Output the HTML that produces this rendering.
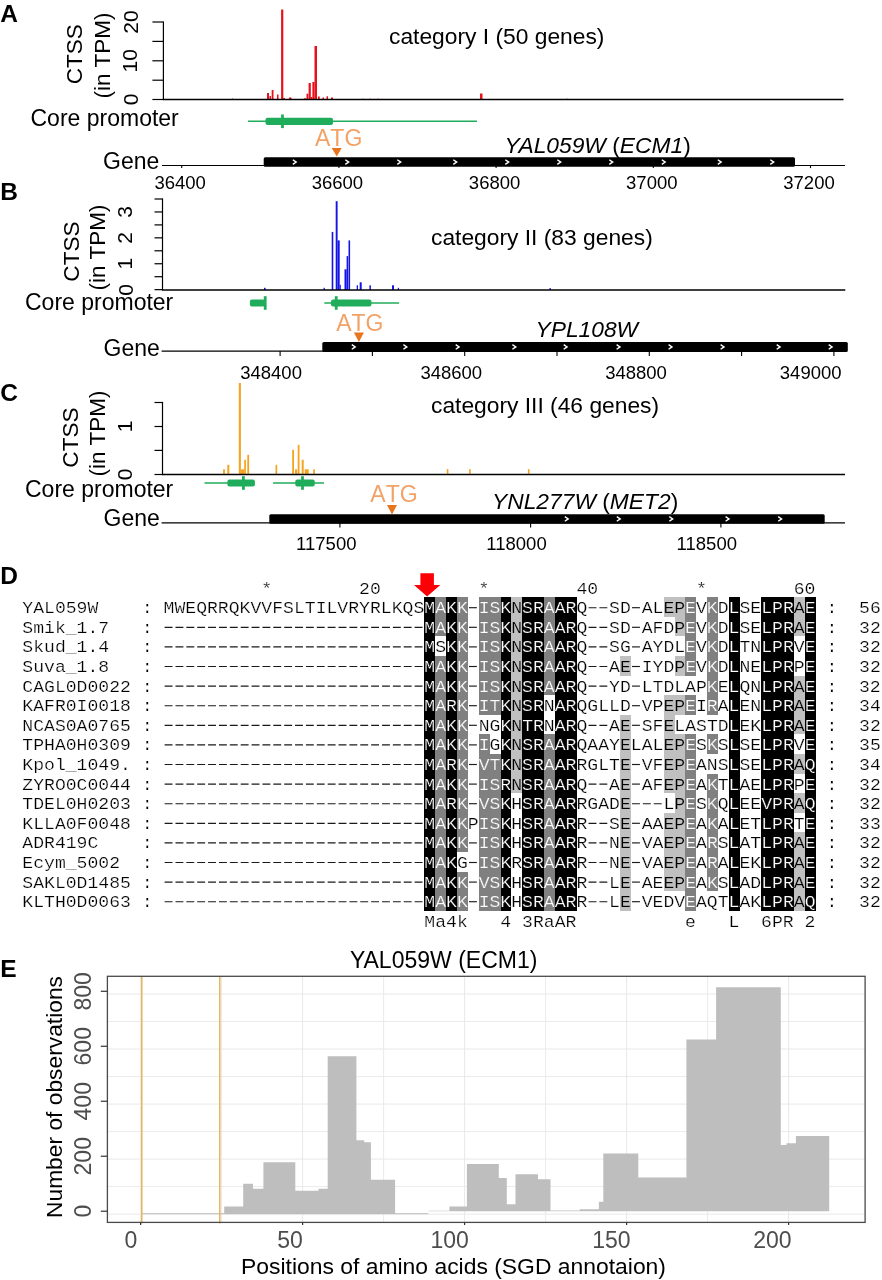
<!DOCTYPE html>
<html><head><meta charset="utf-8"><title>figure</title>
<style>
html,body{margin:0;padding:0;background:#fff}
svg{display:block;will-change:transform}
text{font-family:"Liberation Sans", sans-serif}
.m text{font-family:"Liberation Mono", monospace;white-space:pre}
</style></head>
<body>
<svg width="882" height="1280" viewBox="0 0 882 1280">
<!-- panels A-C -->
<text x="0.3" y="21.8" font-size="24.5" font-weight="bold">A</text>
<line x1="163.4" y1="21.4" x2="163.4" y2="99.5" stroke="#000" stroke-width="1.2"/>
<line x1="152.4" y1="22" x2="163.4" y2="22" stroke="#000" stroke-width="1.2"/>
<line x1="152.4" y1="41.4" x2="163.4" y2="41.4" stroke="#000" stroke-width="1.2"/>
<line x1="152.4" y1="60.8" x2="163.4" y2="60.8" stroke="#000" stroke-width="1.2"/>
<line x1="152.4" y1="80.2" x2="163.4" y2="80.2" stroke="#000" stroke-width="1.2"/>
<line x1="152.4" y1="99.5" x2="163.4" y2="99.5" stroke="#000" stroke-width="1.2"/>
<text x="81.7" y="54.2" font-size="22.6" text-anchor="middle" transform="rotate(-90 81.7 54.2)">CTSS</text>
<text x="109.5" y="55.5" font-size="22.5" text-anchor="middle" transform="rotate(-90 109.5 55.5)">(in TPM)</text>
<text x="137.5" y="99.5" font-size="21" text-anchor="middle" transform="rotate(-90 137.5 99.5)">0</text>
<text x="137.5" y="60.8" font-size="21" text-anchor="middle" transform="rotate(-90 137.5 60.8)">10</text>
<text x="137.5" y="22" font-size="21" text-anchor="middle" transform="rotate(-90 137.5 22)">20</text>
<rect x="232" y="98.5" width="1" height="1.0" fill="#e8101a"/>
<rect x="267" y="93" width="2" height="6.5" fill="#e8101a"/>
<rect x="269.5" y="96" width="1.5" height="3.5" fill="#e8101a"/>
<rect x="271.7" y="90" width="1.8" height="9.5" fill="#e8101a"/>
<rect x="277" y="94.5" width="1.5" height="5.0" fill="#e8101a"/>
<rect x="281.1" y="9.5" width="2.2" height="90.0" fill="#e8101a"/>
<rect x="283.3" y="98" width="1.7" height="1.5" fill="#e8101a"/>
<rect x="289" y="97.5" width="2.5" height="2.0" fill="#e8101a"/>
<rect x="304" y="98.3" width="2" height="1.2" fill="#e8101a"/>
<rect x="306.5" y="93.7" width="1.8" height="5.8" fill="#e8101a"/>
<rect x="308.6" y="83" width="2.2" height="16.5" fill="#e8101a"/>
<rect x="310.8" y="97" width="1.5" height="2.5" fill="#e8101a"/>
<rect x="312.4" y="82" width="2.1" height="17.5" fill="#e8101a"/>
<rect x="314.5" y="46" width="2.5" height="53.5" fill="#e8101a"/>
<rect x="318" y="96.5" width="1.7" height="3.0" fill="#e8101a"/>
<rect x="322.5" y="97.5" width="1.5" height="2.0" fill="#e8101a"/>
<rect x="326.5" y="96.3" width="1.5" height="3.2" fill="#e8101a"/>
<rect x="331" y="97.5" width="2" height="2.0" fill="#e8101a"/>
<rect x="362" y="98.8" width="2" height="0.7" fill="#e8101a"/>
<rect x="369" y="98.8" width="2" height="0.7" fill="#e8101a"/>
<rect x="377" y="98.8" width="2" height="0.7" fill="#e8101a"/>
<rect x="480" y="93.5" width="2.5" height="6.0" fill="#e8101a"/>
<rect x="566" y="98.8" width="2" height="0.7" fill="#e8101a"/>
<line x1="162.8" y1="99.5" x2="843.5" y2="99.5" stroke="#000" stroke-width="1.6"/>
<text x="389" y="44" font-size="22.8">category I (50 genes)</text>
<text x="30.5" y="125.5" font-size="23">Core promoter</text>
<line x1="248" y1="121.3" x2="477" y2="121.3" stroke="#1fad5b" stroke-width="1.5"/>
<rect x="265.5" y="117.7" width="67.5" height="7.2" rx="2" fill="#1fad5b"/>
<rect x="281.1" y="114.5" width="2.8" height="13.6" fill="#1fad5b"/>
<text x="103" y="168.7" font-size="23">Gene</text>
<line x1="162" y1="165.5" x2="845" y2="165.5" stroke="#000" stroke-width="1.2"/>
<line x1="181.7" y1="165.5" x2="181.7" y2="168.1" stroke="#000" stroke-width="1.1"/>
<line x1="338.9" y1="165.5" x2="338.9" y2="168.1" stroke="#000" stroke-width="1.1"/>
<line x1="496.1" y1="165.5" x2="496.1" y2="168.1" stroke="#000" stroke-width="1.1"/>
<line x1="653.3" y1="165.5" x2="653.3" y2="168.1" stroke="#000" stroke-width="1.1"/>
<line x1="810.5" y1="165.5" x2="810.5" y2="168.1" stroke="#000" stroke-width="1.1"/>
<text x="180.2" y="188.5" font-size="18.5" text-anchor="middle">36400</text>
<text x="337.4" y="188.5" font-size="18.5" text-anchor="middle">36600</text>
<text x="494.6" y="188.5" font-size="18.5" text-anchor="middle">36800</text>
<text x="651.8" y="188.5" font-size="18.5" text-anchor="middle">37000</text>
<text x="809.0" y="188.5" font-size="18.5" text-anchor="middle">37200</text>
<rect x="263.7" y="157.3" width="531.3" height="9.5" rx="1.5" fill="#000"/>
<path d="M292.8 159.75L296.2 162.05L292.8 164.35" fill="none" stroke="#fff" stroke-width="1.4"/>
<path d="M345.3 159.75L348.7 162.05L345.3 164.35" fill="none" stroke="#fff" stroke-width="1.4"/>
<path d="M397.3 159.75L400.7 162.05L397.3 164.35" fill="none" stroke="#fff" stroke-width="1.4"/>
<path d="M453.3 159.75L456.7 162.05L453.3 164.35" fill="none" stroke="#fff" stroke-width="1.4"/>
<path d="M505.3 159.75L508.7 162.05L505.3 164.35" fill="none" stroke="#fff" stroke-width="1.4"/>
<path d="M557.3 159.75L560.7 162.05L557.3 164.35" fill="none" stroke="#fff" stroke-width="1.4"/>
<path d="M609.3 159.75L612.7 162.05L609.3 164.35" fill="none" stroke="#fff" stroke-width="1.4"/>
<path d="M661.8 159.75L665.2 162.05L661.8 164.35" fill="none" stroke="#fff" stroke-width="1.4"/>
<path d="M717.8 159.75L721.2 162.05L717.8 164.35" fill="none" stroke="#fff" stroke-width="1.4"/>
<path d="M770.3 159.75L773.7 162.05L770.3 164.35" fill="none" stroke="#fff" stroke-width="1.4"/>
<text x="315" y="146.3" font-size="23" fill="#f2a266" style="font-kerning:none">ATG</text>
<path d="M331.7 148L341.7 148L336.7 156.5Z" fill="#e8741e"/>
<text x="504.5" y="153" font-size="22.8"><tspan font-style="italic">YAL059W</tspan> (<tspan font-style="italic">ECM1</tspan>)</text>
<text x="0.3" y="199.5" font-size="24.5" font-weight="bold">B</text>
<line x1="162.5" y1="198.4" x2="162.5" y2="290.0" stroke="#000" stroke-width="1.2"/>
<line x1="154.5" y1="199.0" x2="162.5" y2="199.0" stroke="#000" stroke-width="1.2"/>
<line x1="154.5" y1="211.95" x2="162.5" y2="211.95" stroke="#000" stroke-width="1.2"/>
<line x1="154.5" y1="224.9" x2="162.5" y2="224.9" stroke="#000" stroke-width="1.2"/>
<line x1="154.5" y1="237.85" x2="162.5" y2="237.85" stroke="#000" stroke-width="1.2"/>
<line x1="154.5" y1="250.8" x2="162.5" y2="250.8" stroke="#000" stroke-width="1.2"/>
<line x1="154.5" y1="263.75" x2="162.5" y2="263.75" stroke="#000" stroke-width="1.2"/>
<line x1="154.5" y1="276.7" x2="162.5" y2="276.7" stroke="#000" stroke-width="1.2"/>
<line x1="154.5" y1="289.65" x2="162.5" y2="289.65" stroke="#000" stroke-width="1.2"/>
<text x="79.3" y="251.5" font-size="22.6" text-anchor="middle" transform="rotate(-90 79.3 251.5)">CTSS</text>
<text x="105.4" y="247.5" font-size="22.5" text-anchor="middle" transform="rotate(-90 105.4 247.5)">(in TPM)</text>
<text x="132.5" y="290.0" font-size="21" text-anchor="middle" transform="rotate(-90 132.5 290.0)">0</text>
<text x="132.5" y="263.7" font-size="21" text-anchor="middle" transform="rotate(-90 132.5 263.7)">1</text>
<text x="132.5" y="237.8" font-size="21" text-anchor="middle" transform="rotate(-90 132.5 237.8)">2</text>
<text x="132.5" y="211.9" font-size="21" text-anchor="middle" transform="rotate(-90 132.5 211.9)">3</text>
<rect x="264" y="287.8" width="1.6" height="2.2" fill="#1414e6"/>
<rect x="323.5" y="287.8" width="1.3" height="2.2" fill="#1414e6"/>
<rect x="331.7" y="231.9" width="1.6" height="58.1" fill="#1414e6"/>
<rect x="335.7" y="201.2" width="1.9" height="88.8" fill="#1414e6"/>
<rect x="337.6" y="240.4" width="2.1" height="49.6" fill="#1414e6"/>
<rect x="339.7" y="284.8" width="1.1" height="5.2" fill="#1414e6"/>
<rect x="344.5" y="269.3" width="2.1" height="20.7" fill="#1414e6"/>
<rect x="346.6" y="256.1" width="1.5" height="33.9" fill="#1414e6"/>
<rect x="348.5" y="240.4" width="1.6" height="49.6" fill="#1414e6"/>
<rect x="356.7" y="285.3" width="1.3" height="4.7" fill="#1414e6"/>
<rect x="359.7" y="282.3" width="2.0" height="7.7" fill="#1414e6"/>
<rect x="369.4" y="285.3" width="1.5" height="4.7" fill="#1414e6"/>
<rect x="392" y="285.3" width="2" height="4.7" fill="#1414e6"/>
<rect x="397.8" y="287.8" width="1.2" height="2.2" fill="#1414e6"/>
<rect x="549.5" y="288" width="1.3" height="2.0" fill="#1414e6"/>
<line x1="161.9" y1="290.0" x2="845.3" y2="290.0" stroke="#000" stroke-width="1.6"/>
<text x="431" y="245" font-size="22.8">category II (83 genes)</text>
<text x="25" y="309.9" font-size="23">Core promoter</text>
<line x1="324.3" y1="303" x2="399.1" y2="303" stroke="#1fad5b" stroke-width="1.5"/>
<rect x="249.9" y="299.4" width="15.1" height="7.2" rx="2" fill="#1fad5b"/>
<rect x="331" y="299.4" width="40.4" height="7.2" rx="2" fill="#1fad5b"/>
<rect x="263.8" y="296.2" width="2.8" height="13.6" fill="#1fad5b"/>
<rect x="334.8" y="296.2" width="2.8" height="13.6" fill="#1fad5b"/>
<text x="103.5" y="355.6" font-size="23">Gene</text>
<line x1="161.6" y1="351.1" x2="846" y2="351.1" stroke="#000" stroke-width="1.2"/>
<line x1="280.1" y1="351.1" x2="280.1" y2="355.90000000000003" stroke="#000" stroke-width="1.1"/>
<line x1="372.40000000000003" y1="351.1" x2="372.40000000000003" y2="355.90000000000003" stroke="#000" stroke-width="1.1"/>
<line x1="464.70000000000005" y1="351.1" x2="464.70000000000005" y2="355.90000000000003" stroke="#000" stroke-width="1.1"/>
<line x1="557.0" y1="351.1" x2="557.0" y2="355.90000000000003" stroke="#000" stroke-width="1.1"/>
<line x1="649.3" y1="351.1" x2="649.3" y2="355.90000000000003" stroke="#000" stroke-width="1.1"/>
<line x1="741.6" y1="351.1" x2="741.6" y2="355.90000000000003" stroke="#000" stroke-width="1.1"/>
<line x1="833.9" y1="351.1" x2="833.9" y2="355.90000000000003" stroke="#000" stroke-width="1.1"/>
<text x="271.1" y="378.6" font-size="18.5" text-anchor="middle">348400</text>
<text x="451.3" y="378.6" font-size="18.5" text-anchor="middle">348600</text>
<text x="636" y="378.6" font-size="18.5" text-anchor="middle">348800</text>
<text x="810.7" y="378.6" font-size="18.5" text-anchor="middle">349000</text>
<rect x="322.3" y="341.9" width="525.5" height="10.1" rx="1.5" fill="#000"/>
<path d="M351.8 344.65L355.2 346.95L351.8 349.25" fill="none" stroke="#fff" stroke-width="1.4"/>
<path d="M403.4 344.65L406.8 346.95L403.4 349.25" fill="none" stroke="#fff" stroke-width="1.4"/>
<path d="M455.7 344.65L459.1 346.95L455.7 349.25" fill="none" stroke="#fff" stroke-width="1.4"/>
<path d="M512.4 344.65L515.8 346.95L512.4 349.25" fill="none" stroke="#fff" stroke-width="1.4"/>
<path d="M563.7 344.65L567.1 346.95L563.7 349.25" fill="none" stroke="#fff" stroke-width="1.4"/>
<path d="M616.6 344.65L620.0 346.95L616.6 349.25" fill="none" stroke="#fff" stroke-width="1.4"/>
<path d="M668.6 344.65L672.0 346.95L668.6 349.25" fill="none" stroke="#fff" stroke-width="1.4"/>
<path d="M720.6 344.65L724.0 346.95L720.6 349.25" fill="none" stroke="#fff" stroke-width="1.4"/>
<path d="M776.7 344.65L780.1 346.95L776.7 349.25" fill="none" stroke="#fff" stroke-width="1.4"/>
<path d="M828.7 344.65L832.1 346.95L828.7 349.25" fill="none" stroke="#fff" stroke-width="1.4"/>
<text x="336.2" y="331.1" font-size="23" fill="#f2a266" style="font-kerning:none">ATG</text>
<path d="M353.9 332.6L363.9 332.6L358.9 341.9Z" fill="#e8741e"/>
<text x="535.5" y="336.9" font-size="22.8"><tspan font-style="italic">YPL108W</tspan></text>
<text x="0.3" y="401.3" font-size="24.5" font-weight="bold">C</text>
<line x1="162.5" y1="401.9" x2="162.5" y2="474.5" stroke="#000" stroke-width="1.2"/>
<line x1="154.5" y1="402.5" x2="162.5" y2="402.5" stroke="#000" stroke-width="1.2"/>
<line x1="154.5" y1="426.5" x2="162.5" y2="426.5" stroke="#000" stroke-width="1.2"/>
<line x1="154.5" y1="450.4" x2="162.5" y2="450.4" stroke="#000" stroke-width="1.2"/>
<line x1="154.5" y1="474.5" x2="162.5" y2="474.5" stroke="#000" stroke-width="1.2"/>
<text x="77.8" y="437.5" font-size="22.6" text-anchor="middle" transform="rotate(-90 77.8 437.5)">CTSS</text>
<text x="104.5" y="433.5" font-size="22.5" text-anchor="middle" transform="rotate(-90 104.5 433.5)">(in TPM)</text>
<text x="132" y="474.5" font-size="21" text-anchor="middle" transform="rotate(-90 132 474.5)">0</text>
<text x="132" y="426.5" font-size="21" text-anchor="middle" transform="rotate(-90 132 426.5)">1</text>
<rect x="223.1" y="469.3" width="1.8" height="5.2" fill="#f5a41f"/>
<rect x="227.3" y="464.8" width="2.0" height="9.7" fill="#f5a41f"/>
<rect x="238.8" y="383" width="2.1" height="91.5" fill="#f5a41f"/>
<rect x="240.9" y="469.3" width="3.3" height="5.2" fill="#f5a41f"/>
<rect x="244.2" y="459.8" width="1.7" height="14.7" fill="#f5a41f"/>
<rect x="247.3" y="454.8" width="1.8" height="19.7" fill="#f5a41f"/>
<rect x="275.5" y="464.8" width="1.7" height="9.7" fill="#f5a41f"/>
<rect x="292.2" y="449.8" width="1.8" height="24.7" fill="#f5a41f"/>
<rect x="295" y="469.3" width="2.2" height="5.2" fill="#f5a41f"/>
<rect x="297.7" y="444.8" width="1.8" height="29.7" fill="#f5a41f"/>
<rect x="301.7" y="459.8" width="2.0" height="14.7" fill="#f5a41f"/>
<rect x="304.7" y="469.3" width="4.0" height="5.2" fill="#f5a41f"/>
<rect x="313.2" y="469.3" width="1.7" height="5.2" fill="#f5a41f"/>
<rect x="446.8" y="469.1" width="1.6" height="5.4" fill="#f5a41f"/>
<rect x="469.1" y="469.1" width="1.6" height="5.4" fill="#f5a41f"/>
<rect x="527.9" y="469.1" width="1.6" height="5.4" fill="#f5a41f"/>
<line x1="161.9" y1="474.5" x2="845" y2="474.5" stroke="#000" stroke-width="1.6"/>
<text x="431" y="413" font-size="22.8">category III (46 genes)</text>
<text x="25" y="496.9" font-size="23">Core promoter</text>
<line x1="204.5" y1="483" x2="254.4" y2="483" stroke="#1fad5b" stroke-width="1.5"/>
<line x1="273.1" y1="483" x2="324" y2="483" stroke="#1fad5b" stroke-width="1.5"/>
<rect x="227.4" y="479.4" width="27.5" height="7.2" rx="2" fill="#1fad5b"/>
<rect x="295.3" y="479.4" width="19.4" height="7.2" rx="2" fill="#1fad5b"/>
<rect x="242.0" y="476.2" width="2.8" height="13.6" fill="#1fad5b"/>
<rect x="301.1" y="476.2" width="2.8" height="13.6" fill="#1fad5b"/>
<text x="103.5" y="526.4" font-size="23">Gene</text>
<line x1="161.6" y1="522.9" x2="845" y2="522.9" stroke="#000" stroke-width="1.2"/>
<line x1="339.9" y1="522.9" x2="339.9" y2="527.5" stroke="#000" stroke-width="1.1"/>
<line x1="530.6" y1="522.9" x2="530.6" y2="527.5" stroke="#000" stroke-width="1.1"/>
<line x1="720.9" y1="522.9" x2="720.9" y2="527.5" stroke="#000" stroke-width="1.1"/>
<text x="326.3" y="550" font-size="18.5" text-anchor="middle">117500</text>
<text x="516.5" y="550" font-size="18.5" text-anchor="middle">118000</text>
<text x="706.8" y="550" font-size="18.5" text-anchor="middle">118500</text>
<rect x="269.3" y="514.2" width="555.4" height="9.5" rx="1.5" fill="#000"/>
<path d="M564.8 516.65L568.2 518.95L564.8 521.25" fill="none" stroke="#fff" stroke-width="1.4"/>
<path d="M616.8 516.65L620.2 518.95L616.8 521.25" fill="none" stroke="#fff" stroke-width="1.4"/>
<path d="M669.3 516.65L672.7 518.95L669.3 521.25" fill="none" stroke="#fff" stroke-width="1.4"/>
<path d="M725.6 516.65L729.0 518.95L725.6 521.25" fill="none" stroke="#fff" stroke-width="1.4"/>
<path d="M778.2 516.65L781.6 518.95L778.2 521.25" fill="none" stroke="#fff" stroke-width="1.4"/>
<text x="370.3" y="502.4" font-size="23" fill="#f2a266" style="font-kerning:none">ATG</text>
<path d="M387 505L397 505L392 514.4Z" fill="#e8741e"/>
<text x="492" y="508.5" font-size="22.8"><tspan font-style="italic">YNL277W</tspan> (<tspan font-style="italic">MET2</tspan>)</text>
<!-- panel D -->
<rect x="424.49" y="597.2" width="10.87" height="313.6" fill="#000" shape-rendering="crispEdges"/>
<rect x="435.36" y="597.2" width="10.87" height="39.2" fill="#808080" shape-rendering="crispEdges"/>
<rect x="435.36" y="656.0" width="10.87" height="254.8" fill="#808080" shape-rendering="crispEdges"/>
<rect x="446.23" y="597.2" width="10.87" height="313.6" fill="#000" shape-rendering="crispEdges"/>
<rect x="457.1" y="597.2" width="10.87" height="254.8" fill="#808080" shape-rendering="crispEdges"/>
<rect x="457.1" y="871.6" width="10.87" height="39.2" fill="#808080" shape-rendering="crispEdges"/>
<rect x="478.84" y="597.2" width="10.87" height="117.6" fill="#808080" shape-rendering="crispEdges"/>
<rect x="478.84" y="734.4" width="10.87" height="176.4" fill="#808080" shape-rendering="crispEdges"/>
<rect x="489.71" y="597.2" width="10.87" height="117.6" fill="#808080" shape-rendering="crispEdges"/>
<rect x="489.71" y="754.0" width="10.87" height="156.8" fill="#808080" shape-rendering="crispEdges"/>
<rect x="500.58" y="597.2" width="10.87" height="313.6" fill="#000" shape-rendering="crispEdges"/>
<rect x="511.45" y="597.2" width="10.87" height="196.0" fill="#c0c0c0" shape-rendering="crispEdges"/>
<rect x="522.32" y="597.2" width="10.87" height="313.6" fill="#000" shape-rendering="crispEdges"/>
<rect x="533.19" y="597.2" width="10.87" height="313.6" fill="#000" shape-rendering="crispEdges"/>
<rect x="544.06" y="597.2" width="10.87" height="98.0" fill="#808080" shape-rendering="crispEdges"/>
<rect x="544.06" y="734.4" width="10.87" height="176.4" fill="#808080" shape-rendering="crispEdges"/>
<rect x="554.93" y="597.2" width="10.87" height="313.6" fill="#000" shape-rendering="crispEdges"/>
<rect x="565.8" y="597.2" width="10.87" height="313.6" fill="#000" shape-rendering="crispEdges"/>
<rect x="620.15" y="656.0" width="10.87" height="19.6" fill="#c0c0c0" shape-rendering="crispEdges"/>
<rect x="620.15" y="714.8" width="10.87" height="196.0" fill="#c0c0c0" shape-rendering="crispEdges"/>
<rect x="663.63" y="597.2" width="10.87" height="19.6" fill="#c0c0c0" shape-rendering="crispEdges"/>
<rect x="663.63" y="695.2" width="10.87" height="98.0" fill="#c0c0c0" shape-rendering="crispEdges"/>
<rect x="663.63" y="812.8" width="10.87" height="78.4" fill="#c0c0c0" shape-rendering="crispEdges"/>
<rect x="674.5" y="597.2" width="10.87" height="39.2" fill="#c0c0c0" shape-rendering="crispEdges"/>
<rect x="674.5" y="656.0" width="10.87" height="19.6" fill="#c0c0c0" shape-rendering="crispEdges"/>
<rect x="674.5" y="695.2" width="10.87" height="19.6" fill="#c0c0c0" shape-rendering="crispEdges"/>
<rect x="674.5" y="734.4" width="10.87" height="156.8" fill="#c0c0c0" shape-rendering="crispEdges"/>
<rect x="685.37" y="597.2" width="10.87" height="78.4" fill="#808080" shape-rendering="crispEdges"/>
<rect x="685.37" y="695.2" width="10.87" height="19.6" fill="#808080" shape-rendering="crispEdges"/>
<rect x="685.37" y="734.4" width="10.87" height="176.4" fill="#808080" shape-rendering="crispEdges"/>
<rect x="707.11" y="597.2" width="10.87" height="117.6" fill="#808080" shape-rendering="crispEdges"/>
<rect x="707.11" y="734.4" width="10.87" height="19.6" fill="#808080" shape-rendering="crispEdges"/>
<rect x="707.11" y="773.6" width="10.87" height="117.6" fill="#808080" shape-rendering="crispEdges"/>
<rect x="728.85" y="597.2" width="10.87" height="313.6" fill="#000" shape-rendering="crispEdges"/>
<rect x="761.46" y="597.2" width="10.87" height="313.6" fill="#000" shape-rendering="crispEdges"/>
<rect x="772.33" y="597.2" width="10.87" height="313.6" fill="#000" shape-rendering="crispEdges"/>
<rect x="783.2" y="597.2" width="10.87" height="313.6" fill="#000" shape-rendering="crispEdges"/>
<rect x="794.07" y="597.2" width="10.87" height="39.2" fill="#c0c0c0" shape-rendering="crispEdges"/>
<rect x="794.07" y="675.6" width="10.87" height="58.8" fill="#c0c0c0" shape-rendering="crispEdges"/>
<rect x="794.07" y="754.0" width="10.87" height="19.6" fill="#c0c0c0" shape-rendering="crispEdges"/>
<rect x="794.07" y="793.2" width="10.87" height="19.6" fill="#c0c0c0" shape-rendering="crispEdges"/>
<rect x="794.07" y="832.4" width="10.87" height="78.4" fill="#c0c0c0" shape-rendering="crispEdges"/>
<rect x="804.94" y="597.2" width="10.87" height="313.6" fill="#000" shape-rendering="crispEdges"/>
<g class="m" font-size="18.11" stroke="#fff" stroke-width="0.25">
<text transform="translate(22.3 593.9) scale(1 0.87)">                      *        20         *        40         *        60</text>
<line x1="468.97" y1="607.7" x2="478.84" y2="607.7" stroke="#1a1a1a" stroke-width="1.15" stroke-dasharray="7.9 2.97"/>
<line x1="588.54" y1="607.7" x2="609.28" y2="607.7" stroke="#1a1a1a" stroke-width="1.15" stroke-dasharray="7.9 2.97"/>
<line x1="632.02" y1="607.7" x2="641.89" y2="607.7" stroke="#1a1a1a" stroke-width="1.15" stroke-dasharray="7.9 2.97"/>
<text transform="translate(22.3 613.1) scale(1 0.87)">YAL059W    : MWEQRRQKVVFSLTILVRYRLKQS<tspan fill="#fff" stroke="#000">M</tspan><tspan fill="#fff" stroke="#808080">A</tspan><tspan fill="#fff" stroke="#000">K</tspan><tspan fill="#fff" stroke="#808080">K IS</tspan><tspan fill="#fff" stroke="#000">K</tspan><tspan fill="#000" stroke="#c0c0c0">N</tspan><tspan fill="#fff" stroke="#000">SR</tspan><tspan fill="#fff" stroke="#808080">A</tspan><tspan fill="#fff" stroke="#000">AR</tspan>Q  SD AL<tspan fill="#000" stroke="#c0c0c0">EP</tspan><tspan fill="#fff" stroke="#808080">E</tspan>V<tspan fill="#fff" stroke="#808080">K</tspan>D<tspan fill="#fff" stroke="#000">L</tspan>SE<tspan fill="#fff" stroke="#000">LPR</tspan><tspan fill="#000" stroke="#c0c0c0">A</tspan><tspan fill="#fff" stroke="#000">E </tspan>:  56</text>
<line x1="164.61" y1="627.3" x2="424.49" y2="627.3" stroke="#1a1a1a" stroke-width="1.15" stroke-dasharray="7.9 2.97"/>
<line x1="468.97" y1="627.3" x2="478.84" y2="627.3" stroke="#1a1a1a" stroke-width="1.15" stroke-dasharray="7.9 2.97"/>
<line x1="588.54" y1="627.3" x2="609.28" y2="627.3" stroke="#1a1a1a" stroke-width="1.15" stroke-dasharray="7.9 2.97"/>
<line x1="632.02" y1="627.3" x2="641.89" y2="627.3" stroke="#1a1a1a" stroke-width="1.15" stroke-dasharray="7.9 2.97"/>
<text transform="translate(22.3 632.7) scale(1 0.87)">Smik_1.7   :                         <tspan fill="#fff" stroke="#000">M</tspan><tspan fill="#fff" stroke="#808080">A</tspan><tspan fill="#fff" stroke="#000">K</tspan><tspan fill="#fff" stroke="#808080">K IS</tspan><tspan fill="#fff" stroke="#000">K</tspan><tspan fill="#000" stroke="#c0c0c0">N</tspan><tspan fill="#fff" stroke="#000">SR</tspan><tspan fill="#fff" stroke="#808080">A</tspan><tspan fill="#fff" stroke="#000">AR</tspan>Q  SD AFD<tspan fill="#000" stroke="#c0c0c0">P</tspan><tspan fill="#fff" stroke="#808080">E</tspan>V<tspan fill="#fff" stroke="#808080">K</tspan>D<tspan fill="#fff" stroke="#000">L</tspan>SE<tspan fill="#fff" stroke="#000">LPR</tspan><tspan fill="#000" stroke="#c0c0c0">A</tspan><tspan fill="#fff" stroke="#000">E </tspan>:  32</text>
<line x1="164.61" y1="646.9" x2="424.49" y2="646.9" stroke="#1a1a1a" stroke-width="1.15" stroke-dasharray="7.9 2.97"/>
<line x1="468.97" y1="646.9" x2="478.84" y2="646.9" stroke="#1a1a1a" stroke-width="1.15" stroke-dasharray="7.9 2.97"/>
<line x1="588.54" y1="646.9" x2="609.28" y2="646.9" stroke="#1a1a1a" stroke-width="1.15" stroke-dasharray="7.9 2.97"/>
<line x1="632.02" y1="646.9" x2="641.89" y2="646.9" stroke="#1a1a1a" stroke-width="1.15" stroke-dasharray="7.9 2.97"/>
<text transform="translate(22.3 652.3) scale(1 0.87)">Skud_1.4   :                         <tspan fill="#fff" stroke="#000">M</tspan>S<tspan fill="#fff" stroke="#000">K</tspan><tspan fill="#fff" stroke="#808080">K IS</tspan><tspan fill="#fff" stroke="#000">K</tspan><tspan fill="#000" stroke="#c0c0c0">N</tspan><tspan fill="#fff" stroke="#000">SR</tspan><tspan fill="#fff" stroke="#808080">A</tspan><tspan fill="#fff" stroke="#000">AR</tspan>Q  SG AYDL<tspan fill="#fff" stroke="#808080">E</tspan>V<tspan fill="#fff" stroke="#808080">K</tspan>D<tspan fill="#fff" stroke="#000">L</tspan>TN<tspan fill="#fff" stroke="#000">LPR</tspan>V<tspan fill="#fff" stroke="#000">E </tspan>:  32</text>
<line x1="164.61" y1="666.5" x2="424.49" y2="666.5" stroke="#1a1a1a" stroke-width="1.15" stroke-dasharray="7.9 2.97"/>
<line x1="468.97" y1="666.5" x2="478.84" y2="666.5" stroke="#1a1a1a" stroke-width="1.15" stroke-dasharray="7.9 2.97"/>
<line x1="588.54" y1="666.5" x2="609.28" y2="666.5" stroke="#1a1a1a" stroke-width="1.15" stroke-dasharray="7.9 2.97"/>
<line x1="632.02" y1="666.5" x2="641.89" y2="666.5" stroke="#1a1a1a" stroke-width="1.15" stroke-dasharray="7.9 2.97"/>
<text transform="translate(22.3 671.9) scale(1 0.87)">Suva_1.8   :                         <tspan fill="#fff" stroke="#000">M</tspan><tspan fill="#fff" stroke="#808080">A</tspan><tspan fill="#fff" stroke="#000">K</tspan><tspan fill="#fff" stroke="#808080">K IS</tspan><tspan fill="#fff" stroke="#000">K</tspan><tspan fill="#000" stroke="#c0c0c0">N</tspan><tspan fill="#fff" stroke="#000">SR</tspan><tspan fill="#fff" stroke="#808080">A</tspan><tspan fill="#fff" stroke="#000">AR</tspan>Q  A<tspan fill="#000" stroke="#c0c0c0">E </tspan>IYD<tspan fill="#000" stroke="#c0c0c0">P</tspan><tspan fill="#fff" stroke="#808080">E</tspan>V<tspan fill="#fff" stroke="#808080">K</tspan>D<tspan fill="#fff" stroke="#000">L</tspan>NE<tspan fill="#fff" stroke="#000">LPR</tspan>P<tspan fill="#fff" stroke="#000">E </tspan>:  32</text>
<line x1="164.61" y1="686.1" x2="424.49" y2="686.1" stroke="#1a1a1a" stroke-width="1.15" stroke-dasharray="7.9 2.97"/>
<line x1="468.97" y1="686.1" x2="478.84" y2="686.1" stroke="#1a1a1a" stroke-width="1.15" stroke-dasharray="7.9 2.97"/>
<line x1="588.54" y1="686.1" x2="609.28" y2="686.1" stroke="#1a1a1a" stroke-width="1.15" stroke-dasharray="7.9 2.97"/>
<line x1="632.02" y1="686.1" x2="641.89" y2="686.1" stroke="#1a1a1a" stroke-width="1.15" stroke-dasharray="7.9 2.97"/>
<text transform="translate(22.3 691.5) scale(1 0.87)">CAGL0D0022 :                         <tspan fill="#fff" stroke="#000">M</tspan><tspan fill="#fff" stroke="#808080">A</tspan><tspan fill="#fff" stroke="#000">K</tspan><tspan fill="#fff" stroke="#808080">K IS</tspan><tspan fill="#fff" stroke="#000">K</tspan><tspan fill="#000" stroke="#c0c0c0">N</tspan><tspan fill="#fff" stroke="#000">SR</tspan><tspan fill="#fff" stroke="#808080">A</tspan><tspan fill="#fff" stroke="#000">AR</tspan>Q  YD LTDLAP<tspan fill="#fff" stroke="#808080">K</tspan>E<tspan fill="#fff" stroke="#000">L</tspan>QN<tspan fill="#fff" stroke="#000">LPR</tspan><tspan fill="#000" stroke="#c0c0c0">A</tspan><tspan fill="#fff" stroke="#000">E </tspan>:  32</text>
<line x1="164.61" y1="705.7" x2="424.49" y2="705.7" stroke="#1a1a1a" stroke-width="1.15" stroke-dasharray="7.9 2.97"/>
<line x1="468.97" y1="705.7" x2="478.84" y2="705.7" stroke="#1a1a1a" stroke-width="1.15" stroke-dasharray="7.9 2.97"/>
<line x1="632.02" y1="705.7" x2="641.89" y2="705.7" stroke="#1a1a1a" stroke-width="1.15" stroke-dasharray="7.9 2.97"/>
<text transform="translate(22.3 711.1) scale(1 0.87)">KAFR0I0018 :                         <tspan fill="#fff" stroke="#000">M</tspan><tspan fill="#fff" stroke="#808080">A</tspan><tspan fill="#fff" stroke="#000">R</tspan><tspan fill="#fff" stroke="#808080">K IT</tspan><tspan fill="#fff" stroke="#000">K</tspan><tspan fill="#000" stroke="#c0c0c0">N</tspan><tspan fill="#fff" stroke="#000">SR</tspan>N<tspan fill="#fff" stroke="#000">AR</tspan>QGLLD VP<tspan fill="#000" stroke="#c0c0c0">EP</tspan><tspan fill="#fff" stroke="#808080">E</tspan>I<tspan fill="#fff" stroke="#808080">R</tspan>A<tspan fill="#fff" stroke="#000">L</tspan>EN<tspan fill="#fff" stroke="#000">LPR</tspan><tspan fill="#000" stroke="#c0c0c0">A</tspan><tspan fill="#fff" stroke="#000">E </tspan>:  34</text>
<line x1="164.61" y1="725.3" x2="424.49" y2="725.3" stroke="#1a1a1a" stroke-width="1.15" stroke-dasharray="7.9 2.97"/>
<line x1="468.97" y1="725.3" x2="478.84" y2="725.3" stroke="#1a1a1a" stroke-width="1.15" stroke-dasharray="7.9 2.97"/>
<line x1="588.54" y1="725.3" x2="609.28" y2="725.3" stroke="#1a1a1a" stroke-width="1.15" stroke-dasharray="7.9 2.97"/>
<line x1="632.02" y1="725.3" x2="641.89" y2="725.3" stroke="#1a1a1a" stroke-width="1.15" stroke-dasharray="7.9 2.97"/>
<text transform="translate(22.3 730.7) scale(1 0.87)">NCAS0A0765 :                         <tspan fill="#fff" stroke="#000">M</tspan><tspan fill="#fff" stroke="#808080">A</tspan><tspan fill="#fff" stroke="#000">K</tspan><tspan fill="#fff" stroke="#808080">K </tspan>NG<tspan fill="#fff" stroke="#000">K</tspan><tspan fill="#000" stroke="#c0c0c0">N</tspan><tspan fill="#fff" stroke="#000">TR</tspan>N<tspan fill="#fff" stroke="#000">AR</tspan>Q  A<tspan fill="#000" stroke="#c0c0c0">E </tspan>SF<tspan fill="#000" stroke="#c0c0c0">E</tspan>LASTD<tspan fill="#fff" stroke="#000">L</tspan>EK<tspan fill="#fff" stroke="#000">LPR</tspan><tspan fill="#000" stroke="#c0c0c0">A</tspan><tspan fill="#fff" stroke="#000">E </tspan>:  32</text>
<line x1="164.61" y1="744.9" x2="424.49" y2="744.9" stroke="#1a1a1a" stroke-width="1.15" stroke-dasharray="7.9 2.97"/>
<line x1="468.97" y1="744.9" x2="478.84" y2="744.9" stroke="#1a1a1a" stroke-width="1.15" stroke-dasharray="7.9 2.97"/>
<text transform="translate(22.3 750.3) scale(1 0.87)">TPHA0H0309 :                         <tspan fill="#fff" stroke="#000">M</tspan><tspan fill="#fff" stroke="#808080">A</tspan><tspan fill="#fff" stroke="#000">K</tspan><tspan fill="#fff" stroke="#808080">K I</tspan>G<tspan fill="#fff" stroke="#000">K</tspan><tspan fill="#000" stroke="#c0c0c0">N</tspan><tspan fill="#fff" stroke="#000">SR</tspan><tspan fill="#fff" stroke="#808080">A</tspan><tspan fill="#fff" stroke="#000">AR</tspan>QAAY<tspan fill="#000" stroke="#c0c0c0">E</tspan>LAL<tspan fill="#000" stroke="#c0c0c0">EP</tspan><tspan fill="#fff" stroke="#808080">E</tspan>S<tspan fill="#fff" stroke="#808080">K</tspan>S<tspan fill="#fff" stroke="#000">L</tspan>SE<tspan fill="#fff" stroke="#000">LPR</tspan>V<tspan fill="#fff" stroke="#000">E </tspan>:  35</text>
<line x1="164.61" y1="764.5" x2="424.49" y2="764.5" stroke="#1a1a1a" stroke-width="1.15" stroke-dasharray="7.9 2.97"/>
<line x1="468.97" y1="764.5" x2="478.84" y2="764.5" stroke="#1a1a1a" stroke-width="1.15" stroke-dasharray="7.9 2.97"/>
<line x1="632.02" y1="764.5" x2="641.89" y2="764.5" stroke="#1a1a1a" stroke-width="1.15" stroke-dasharray="7.9 2.97"/>
<text transform="translate(22.3 769.9) scale(1 0.87)">Kpol_1049. :                         <tspan fill="#fff" stroke="#000">M</tspan><tspan fill="#fff" stroke="#808080">A</tspan><tspan fill="#fff" stroke="#000">R</tspan><tspan fill="#fff" stroke="#808080">K VT</tspan><tspan fill="#fff" stroke="#000">K</tspan><tspan fill="#000" stroke="#c0c0c0">N</tspan><tspan fill="#fff" stroke="#000">SR</tspan><tspan fill="#fff" stroke="#808080">A</tspan><tspan fill="#fff" stroke="#000">AR</tspan>RGLT<tspan fill="#000" stroke="#c0c0c0">E </tspan>VF<tspan fill="#000" stroke="#c0c0c0">EP</tspan><tspan fill="#fff" stroke="#808080">E</tspan>ANS<tspan fill="#fff" stroke="#000">L</tspan>SE<tspan fill="#fff" stroke="#000">LPR</tspan><tspan fill="#000" stroke="#c0c0c0">A</tspan><tspan fill="#fff" stroke="#000">Q </tspan>:  34</text>
<line x1="164.61" y1="784.1" x2="424.49" y2="784.1" stroke="#1a1a1a" stroke-width="1.15" stroke-dasharray="7.9 2.97"/>
<line x1="468.97" y1="784.1" x2="478.84" y2="784.1" stroke="#1a1a1a" stroke-width="1.15" stroke-dasharray="7.9 2.97"/>
<line x1="588.54" y1="784.1" x2="609.28" y2="784.1" stroke="#1a1a1a" stroke-width="1.15" stroke-dasharray="7.9 2.97"/>
<line x1="632.02" y1="784.1" x2="641.89" y2="784.1" stroke="#1a1a1a" stroke-width="1.15" stroke-dasharray="7.9 2.97"/>
<text transform="translate(22.3 789.5) scale(1 0.87)">ZYRO0C0044 :                         <tspan fill="#fff" stroke="#000">M</tspan><tspan fill="#fff" stroke="#808080">A</tspan><tspan fill="#fff" stroke="#000">K</tspan><tspan fill="#fff" stroke="#808080">K IS</tspan><tspan fill="#fff" stroke="#000">R</tspan><tspan fill="#000" stroke="#c0c0c0">N</tspan><tspan fill="#fff" stroke="#000">SR</tspan><tspan fill="#fff" stroke="#808080">A</tspan><tspan fill="#fff" stroke="#000">AR</tspan>Q  A<tspan fill="#000" stroke="#c0c0c0">E </tspan>AF<tspan fill="#000" stroke="#c0c0c0">EP</tspan><tspan fill="#fff" stroke="#808080">E</tspan>A<tspan fill="#fff" stroke="#808080">K</tspan>T<tspan fill="#fff" stroke="#000">L</tspan>AE<tspan fill="#fff" stroke="#000">LPR</tspan>P<tspan fill="#fff" stroke="#000">E </tspan>:  32</text>
<line x1="164.61" y1="803.7" x2="424.49" y2="803.7" stroke="#1a1a1a" stroke-width="1.15" stroke-dasharray="7.9 2.97"/>
<line x1="468.97" y1="803.7" x2="478.84" y2="803.7" stroke="#1a1a1a" stroke-width="1.15" stroke-dasharray="7.9 2.97"/>
<line x1="632.02" y1="803.7" x2="663.63" y2="803.7" stroke="#1a1a1a" stroke-width="1.15" stroke-dasharray="7.9 2.97"/>
<text transform="translate(22.3 809.1) scale(1 0.87)">TDEL0H0203 :                         <tspan fill="#fff" stroke="#000">M</tspan><tspan fill="#fff" stroke="#808080">A</tspan><tspan fill="#fff" stroke="#000">R</tspan><tspan fill="#fff" stroke="#808080">K VS</tspan><tspan fill="#fff" stroke="#000">K</tspan>H<tspan fill="#fff" stroke="#000">SR</tspan><tspan fill="#fff" stroke="#808080">A</tspan><tspan fill="#fff" stroke="#000">AR</tspan>RGAD<tspan fill="#000" stroke="#c0c0c0">E   </tspan>L<tspan fill="#000" stroke="#c0c0c0">P</tspan><tspan fill="#fff" stroke="#808080">E</tspan>S<tspan fill="#fff" stroke="#808080">K</tspan>Q<tspan fill="#fff" stroke="#000">L</tspan>EE<tspan fill="#fff" stroke="#000">VPR</tspan><tspan fill="#000" stroke="#c0c0c0">A</tspan><tspan fill="#fff" stroke="#000">Q </tspan>:  32</text>
<line x1="164.61" y1="823.3" x2="424.49" y2="823.3" stroke="#1a1a1a" stroke-width="1.15" stroke-dasharray="7.9 2.97"/>
<line x1="588.54" y1="823.3" x2="609.28" y2="823.3" stroke="#1a1a1a" stroke-width="1.15" stroke-dasharray="7.9 2.97"/>
<line x1="632.02" y1="823.3" x2="641.89" y2="823.3" stroke="#1a1a1a" stroke-width="1.15" stroke-dasharray="7.9 2.97"/>
<text transform="translate(22.3 828.7) scale(1 0.87)">KLLA0F0048 :                         <tspan fill="#fff" stroke="#000">M</tspan><tspan fill="#fff" stroke="#808080">A</tspan><tspan fill="#fff" stroke="#000">K</tspan><tspan fill="#fff" stroke="#808080">K</tspan>P<tspan fill="#fff" stroke="#808080">IS</tspan><tspan fill="#fff" stroke="#000">K</tspan>H<tspan fill="#fff" stroke="#000">SR</tspan><tspan fill="#fff" stroke="#808080">A</tspan><tspan fill="#fff" stroke="#000">AR</tspan>R  S<tspan fill="#000" stroke="#c0c0c0">E </tspan>AA<tspan fill="#000" stroke="#c0c0c0">EP</tspan><tspan fill="#fff" stroke="#808080">E</tspan>A<tspan fill="#fff" stroke="#808080">K</tspan>A<tspan fill="#fff" stroke="#000">L</tspan>ET<tspan fill="#fff" stroke="#000">LPR</tspan>T<tspan fill="#fff" stroke="#000">E </tspan>:  33</text>
<line x1="164.61" y1="842.9" x2="424.49" y2="842.9" stroke="#1a1a1a" stroke-width="1.15" stroke-dasharray="7.9 2.97"/>
<line x1="468.97" y1="842.9" x2="478.84" y2="842.9" stroke="#1a1a1a" stroke-width="1.15" stroke-dasharray="7.9 2.97"/>
<line x1="588.54" y1="842.9" x2="609.28" y2="842.9" stroke="#1a1a1a" stroke-width="1.15" stroke-dasharray="7.9 2.97"/>
<line x1="632.02" y1="842.9" x2="641.89" y2="842.9" stroke="#1a1a1a" stroke-width="1.15" stroke-dasharray="7.9 2.97"/>
<text transform="translate(22.3 848.3) scale(1 0.87)">ADR419C    :                         <tspan fill="#fff" stroke="#000">M</tspan><tspan fill="#fff" stroke="#808080">A</tspan><tspan fill="#fff" stroke="#000">K</tspan><tspan fill="#fff" stroke="#808080">K IS</tspan><tspan fill="#fff" stroke="#000">K</tspan>H<tspan fill="#fff" stroke="#000">SR</tspan><tspan fill="#fff" stroke="#808080">A</tspan><tspan fill="#fff" stroke="#000">AR</tspan>R  N<tspan fill="#000" stroke="#c0c0c0">E </tspan>VA<tspan fill="#000" stroke="#c0c0c0">EP</tspan><tspan fill="#fff" stroke="#808080">E</tspan>A<tspan fill="#fff" stroke="#808080">R</tspan>S<tspan fill="#fff" stroke="#000">L</tspan>AT<tspan fill="#fff" stroke="#000">LPR</tspan><tspan fill="#000" stroke="#c0c0c0">A</tspan><tspan fill="#fff" stroke="#000">E </tspan>:  32</text>
<line x1="164.61" y1="862.5" x2="424.49" y2="862.5" stroke="#1a1a1a" stroke-width="1.15" stroke-dasharray="7.9 2.97"/>
<line x1="468.97" y1="862.5" x2="478.84" y2="862.5" stroke="#1a1a1a" stroke-width="1.15" stroke-dasharray="7.9 2.97"/>
<line x1="588.54" y1="862.5" x2="609.28" y2="862.5" stroke="#1a1a1a" stroke-width="1.15" stroke-dasharray="7.9 2.97"/>
<line x1="632.02" y1="862.5" x2="641.89" y2="862.5" stroke="#1a1a1a" stroke-width="1.15" stroke-dasharray="7.9 2.97"/>
<text transform="translate(22.3 867.9) scale(1 0.87)">Ecym_5002  :                         <tspan fill="#fff" stroke="#000">M</tspan><tspan fill="#fff" stroke="#808080">A</tspan><tspan fill="#fff" stroke="#000">K</tspan>G <tspan fill="#fff" stroke="#808080">IS</tspan><tspan fill="#fff" stroke="#000">K</tspan>R<tspan fill="#fff" stroke="#000">SR</tspan><tspan fill="#fff" stroke="#808080">A</tspan><tspan fill="#fff" stroke="#000">AR</tspan>R  N<tspan fill="#000" stroke="#c0c0c0">E </tspan>VA<tspan fill="#000" stroke="#c0c0c0">EP</tspan><tspan fill="#fff" stroke="#808080">E</tspan>A<tspan fill="#fff" stroke="#808080">R</tspan>A<tspan fill="#fff" stroke="#000">L</tspan>EK<tspan fill="#fff" stroke="#000">LPR</tspan><tspan fill="#000" stroke="#c0c0c0">A</tspan><tspan fill="#fff" stroke="#000">E </tspan>:  32</text>
<line x1="164.61" y1="882.1" x2="424.49" y2="882.1" stroke="#1a1a1a" stroke-width="1.15" stroke-dasharray="7.9 2.97"/>
<line x1="468.97" y1="882.1" x2="478.84" y2="882.1" stroke="#1a1a1a" stroke-width="1.15" stroke-dasharray="7.9 2.97"/>
<line x1="588.54" y1="882.1" x2="609.28" y2="882.1" stroke="#1a1a1a" stroke-width="1.15" stroke-dasharray="7.9 2.97"/>
<line x1="632.02" y1="882.1" x2="641.89" y2="882.1" stroke="#1a1a1a" stroke-width="1.15" stroke-dasharray="7.9 2.97"/>
<text transform="translate(22.3 887.5) scale(1 0.87)">SAKL0D1485 :                         <tspan fill="#fff" stroke="#000">M</tspan><tspan fill="#fff" stroke="#808080">A</tspan><tspan fill="#fff" stroke="#000">K</tspan><tspan fill="#fff" stroke="#808080">K VS</tspan><tspan fill="#fff" stroke="#000">K</tspan>H<tspan fill="#fff" stroke="#000">SR</tspan><tspan fill="#fff" stroke="#808080">A</tspan><tspan fill="#fff" stroke="#000">AR</tspan>R  L<tspan fill="#000" stroke="#c0c0c0">E </tspan>AE<tspan fill="#000" stroke="#c0c0c0">EP</tspan><tspan fill="#fff" stroke="#808080">E</tspan>A<tspan fill="#fff" stroke="#808080">K</tspan>S<tspan fill="#fff" stroke="#000">L</tspan>AD<tspan fill="#fff" stroke="#000">LPR</tspan><tspan fill="#000" stroke="#c0c0c0">A</tspan><tspan fill="#fff" stroke="#000">E </tspan>:  32</text>
<line x1="164.61" y1="901.7" x2="424.49" y2="901.7" stroke="#1a1a1a" stroke-width="1.15" stroke-dasharray="7.9 2.97"/>
<line x1="468.97" y1="901.7" x2="478.84" y2="901.7" stroke="#1a1a1a" stroke-width="1.15" stroke-dasharray="7.9 2.97"/>
<line x1="588.54" y1="901.7" x2="609.28" y2="901.7" stroke="#1a1a1a" stroke-width="1.15" stroke-dasharray="7.9 2.97"/>
<line x1="632.02" y1="901.7" x2="641.89" y2="901.7" stroke="#1a1a1a" stroke-width="1.15" stroke-dasharray="7.9 2.97"/>
<text transform="translate(22.3 907.1) scale(1 0.87)">KLTH0D0063 :                         <tspan fill="#fff" stroke="#000">M</tspan><tspan fill="#fff" stroke="#808080">A</tspan><tspan fill="#fff" stroke="#000">K</tspan><tspan fill="#fff" stroke="#808080">K IS</tspan><tspan fill="#fff" stroke="#000">K</tspan>H<tspan fill="#fff" stroke="#000">SR</tspan><tspan fill="#fff" stroke="#808080">A</tspan><tspan fill="#fff" stroke="#000">AR</tspan>R  L<tspan fill="#000" stroke="#c0c0c0">E </tspan>VEDV<tspan fill="#fff" stroke="#808080">E</tspan>AQT<tspan fill="#fff" stroke="#000">L</tspan>AK<tspan fill="#fff" stroke="#000">LPR</tspan><tspan fill="#000" stroke="#c0c0c0">A</tspan><tspan fill="#fff" stroke="#000">Q </tspan>:  32</text>
<text transform="translate(22.3 926.7) scale(1 0.87)">                                     Ma4k   4 3RaAR          e   L  6PR 2</text>
</g>
<text x="0.3" y="584" font-size="24.5" font-weight="bold">D</text>
<path d="M420.4 573.2H433.9V584.9H440.3L427.1 596.5L414 584.9H420.4Z" fill="#fb0007"/>
<!-- panel E -->
<rect x="107.4" y="976.3" width="757.7" height="246.1" fill="#fff"/>
<line x1="107.4" y1="1214.1" x2="865.1" y2="1214.1" stroke="#e8e8e8" stroke-width="1.0"/>
<line x1="107.4" y1="1186.59" x2="865.1" y2="1186.59" stroke="#ebebeb" stroke-width="1.0"/>
<line x1="107.4" y1="1159.08" x2="865.1" y2="1159.08" stroke="#e8e8e8" stroke-width="1.0"/>
<line x1="107.4" y1="1131.57" x2="865.1" y2="1131.57" stroke="#ebebeb" stroke-width="1.0"/>
<line x1="107.4" y1="1104.06" x2="865.1" y2="1104.06" stroke="#e8e8e8" stroke-width="1.0"/>
<line x1="107.4" y1="1076.55" x2="865.1" y2="1076.55" stroke="#ebebeb" stroke-width="1.0"/>
<line x1="107.4" y1="1049.04" x2="865.1" y2="1049.04" stroke="#e8e8e8" stroke-width="1.0"/>
<line x1="107.4" y1="1021.53" x2="865.1" y2="1021.53" stroke="#ebebeb" stroke-width="1.0"/>
<line x1="107.4" y1="994.02" x2="865.1" y2="994.02" stroke="#e8e8e8" stroke-width="1.0"/>
<line x1="140.6" y1="976.3" x2="140.6" y2="1222.4" stroke="#e8e8e8" stroke-width="1.0"/>
<line x1="221.6" y1="976.3" x2="221.6" y2="1222.4" stroke="#ebebeb" stroke-width="1.0"/>
<line x1="302.6" y1="976.3" x2="302.6" y2="1222.4" stroke="#e8e8e8" stroke-width="1.0"/>
<line x1="383.6" y1="976.3" x2="383.6" y2="1222.4" stroke="#ebebeb" stroke-width="1.0"/>
<line x1="464.6" y1="976.3" x2="464.6" y2="1222.4" stroke="#e8e8e8" stroke-width="1.0"/>
<line x1="545.6" y1="976.3" x2="545.6" y2="1222.4" stroke="#ebebeb" stroke-width="1.0"/>
<line x1="626.6" y1="976.3" x2="626.6" y2="1222.4" stroke="#e8e8e8" stroke-width="1.0"/>
<line x1="707.6" y1="976.3" x2="707.6" y2="1222.4" stroke="#ebebeb" stroke-width="1.0"/>
<line x1="788.6" y1="976.3" x2="788.6" y2="1222.4" stroke="#e8e8e8" stroke-width="1.0"/>
<path d="M224.2 1214L224.2 1206.4L243.2 1206.4L243.2 1183.7L252.9 1183.7L252.9 1188.7L263.4 1188.7L263.4 1162.2L295.3 1162.2L295.3 1190.7L318.5 1190.7L318.5 1188.7L327.7 1188.7L327.7 1056.2L356.4 1056.2L356.4 1140.3L364.2 1140.3L364.2 1142.3L370.9 1142.3L370.9 1179.7L395.1 1179.7L395.1 1214Z" fill="#bebebe"/>
<rect x="141.8" y="1213.2" width="286.5" height="1.0" fill="#bebebe"/>
<path d="M428.3 1211.3L428.3 1210.8L449.4 1210.8L449.4 1206.5L466.9 1206.5L466.9 1164.1L498.8 1164.1L498.8 1178.1L506.8 1178.1L506.8 1204.3L515.5 1204.3L515.5 1174.3L538 1174.3L538 1179.3L550.5 1179.3L550.5 1210.6L579.7 1210.6L579.7 1209.3L598.9 1209.3L598.9 1201.8L603.3 1201.8L603.3 1153.6L638.3 1153.6L638.3 1177.6L686.4 1177.6L686.4 1039.4L716.1 1039.4L716.1 987.3L780.8 987.3L780.8 1145L786.5 1145L786.5 1143.2L795.9 1143.2L795.9 1136.1L829.2 1136.1L829.2 1211.3Z" fill="#bebebe"/>
<line x1="141.8" y1="976.3" x2="141.8" y2="1223.4" stroke="#e4b352" stroke-width="1.45"/>
<line x1="219.8" y1="976.3" x2="219.8" y2="1223.4" stroke="#e4b352" stroke-width="1.45"/>
<rect x="107.4" y="976.3" width="757.7" height="246.10000000000014" fill="none" stroke="#4a4a4a" stroke-width="1.3"/>
<line x1="100.8" y1="1211.2" x2="107.4" y2="1211.2" stroke="#333" stroke-width="1.2"/>
<text x="90.9" y="1211.2" font-size="23" text-anchor="middle" fill="#4d4d4d" transform="rotate(-90 90.9 1211.2)">0</text>
<line x1="100.8" y1="1156.22" x2="107.4" y2="1156.22" stroke="#333" stroke-width="1.2"/>
<text x="90.9" y="1156.22" font-size="23" text-anchor="middle" fill="#4d4d4d" transform="rotate(-90 90.9 1156.22)">200</text>
<line x1="100.8" y1="1101.24" x2="107.4" y2="1101.24" stroke="#333" stroke-width="1.2"/>
<text x="90.9" y="1101.24" font-size="23" text-anchor="middle" fill="#4d4d4d" transform="rotate(-90 90.9 1101.24)">400</text>
<line x1="100.8" y1="1046.26" x2="107.4" y2="1046.26" stroke="#333" stroke-width="1.2"/>
<text x="90.9" y="1046.26" font-size="23" text-anchor="middle" fill="#4d4d4d" transform="rotate(-90 90.9 1046.26)">600</text>
<line x1="100.8" y1="991.28" x2="107.4" y2="991.28" stroke="#333" stroke-width="1.2"/>
<text x="90.9" y="991.28" font-size="23" text-anchor="middle" fill="#4d4d4d" transform="rotate(-90 90.9 991.28)">800</text>
<line x1="140.6" y1="1222.4" x2="140.6" y2="1225.0" stroke="#333" stroke-width="1.2"/>
<text x="137.4" y="1247.6" font-size="23" text-anchor="end" fill="#4d4d4d">0</text>
<line x1="302.6" y1="1222.4" x2="302.6" y2="1225.0" stroke="#333" stroke-width="1.2"/>
<text x="302.8" y="1247.6" font-size="23" text-anchor="end" fill="#4d4d4d">50</text>
<line x1="464.6" y1="1222.4" x2="464.6" y2="1225.0" stroke="#333" stroke-width="1.2"/>
<text x="468.8" y="1247.6" font-size="23" text-anchor="end" fill="#4d4d4d">100</text>
<line x1="626.6" y1="1222.4" x2="626.6" y2="1225.0" stroke="#333" stroke-width="1.2"/>
<text x="630.5" y="1247.6" font-size="23" text-anchor="end" fill="#4d4d4d">150</text>
<line x1="788.6" y1="1222.4" x2="788.6" y2="1225.0" stroke="#333" stroke-width="1.2"/>
<text x="791.5" y="1247.6" font-size="23" text-anchor="end" fill="#4d4d4d">200</text>
<text x="241" y="1274.3" font-size="22.9">Positions of amino acids (SGD annotaion)</text>
<text x="62" y="1097" font-size="22.8" text-anchor="middle" transform="rotate(-90 62 1097)">Number of observations</text>
<text x="349.9" y="968.2" font-size="23">YAL059W (ECM1)</text>
<text x="0.3" y="977" font-size="24.5" font-weight="bold">E</text>
</svg>
</body></html>
